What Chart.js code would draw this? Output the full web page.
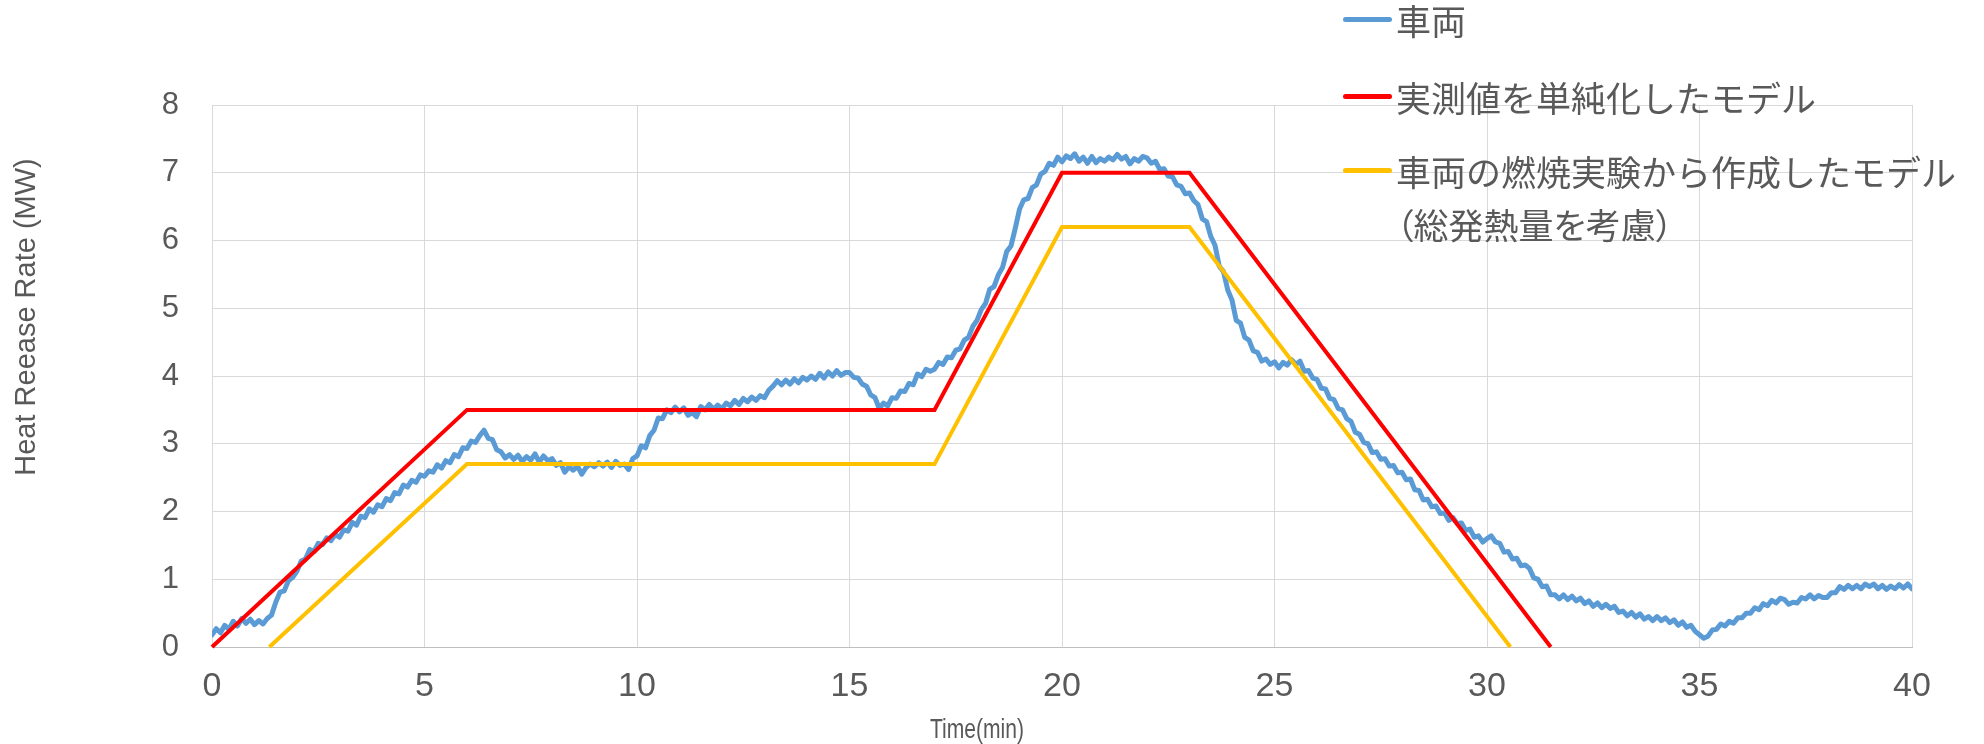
<!DOCTYPE html>
<html><head><meta charset="utf-8">
<script src="https://cdn.jsdelivr.net/npm/chart.js@4.4.1/dist/chart.umd.min.js"></script>
<style>
html,body{margin:0;padding:0;background:#fff;}
#wrap{position:relative;width:1984px;height:744px;overflow:hidden;background:#fff;}
canvas{position:absolute;left:0;top:0;}
.lg{position:absolute;font-family:"Noto Sans CJK JP","Noto Sans CJK SC",sans-serif;font-size:35px;color:#595959;white-space:nowrap;line-height:35px;height:35px;}
.sw{position:absolute;height:5px;border-radius:3px;}
</style></head>
<body><div id="wrap"><canvas id="c" width="1984" height="744"></canvas><div id="legend"></div></div>
<script>
// ---- data ----
const xTickLabels = [0,5,10,15,20,25,30,35,40];
const yTickLabels = [0,1,2,3,4,5,6,7,8];
const xTitle = "Time(min)";
const yTitle = "Heat Reease Rate (MW)";
const seriesNames = ["車両", "実測値を単純化したモデル", "車両の燃焼実験から作成したモデル"];
const seriesNote = "（総発熱量を考慮）";

// measured series 車両 : sampled every 0.1 min from 0 to 40
const vehicleStart = 0, vehicleStep = 0.1;
const vehicleValues = [
0.18,0.27,0.21,0.32,0.26,0.38,0.31,0.42,0.35,0.41,
0.33,0.39,0.34,0.42,0.47,0.66,0.81,0.83,0.98,1.03,
1.12,1.27,1.30,1.44,1.41,1.53,1.51,1.61,1.57,1.66,
1.62,1.73,1.71,1.84,1.80,1.93,1.91,2.04,1.99,2.10,
2.07,2.19,2.16,2.28,2.26,2.39,2.36,2.46,2.43,2.54,
2.52,2.60,2.58,2.69,2.64,2.75,2.72,2.84,2.81,2.94,
2.93,3.04,3.02,3.12,3.20,3.08,3.06,2.91,2.88,2.79,
2.84,2.77,2.83,2.74,2.81,2.76,2.85,2.73,2.82,2.75,
2.78,2.68,2.72,2.58,2.66,2.61,2.67,2.55,2.65,2.70,
2.66,2.72,2.67,2.73,2.65,2.74,2.68,2.70,2.62,2.78,
2.82,2.97,2.94,3.12,3.20,3.38,3.37,3.50,3.46,3.54,
3.47,3.53,3.42,3.46,3.40,3.55,3.50,3.58,3.51,3.57,
3.52,3.60,3.56,3.64,3.58,3.67,3.62,3.69,3.64,3.71,
3.68,3.79,3.85,3.93,3.87,3.94,3.88,3.96,3.90,3.98,
3.94,4.00,3.95,4.04,3.97,4.06,4.00,4.08,4.01,4.05,
4.05,3.98,3.97,3.88,3.85,3.72,3.68,3.52,3.60,3.56,
3.68,3.67,3.78,3.77,3.89,3.87,4.03,3.99,4.10,4.07,
4.10,4.20,4.17,4.28,4.27,4.38,4.40,4.53,4.57,4.73,
4.82,4.98,5.07,5.28,5.32,5.49,5.60,5.84,5.92,6.18,
6.46,6.60,6.62,6.78,6.82,6.98,7.02,7.14,7.11,7.23,
7.16,7.25,7.21,7.28,7.17,7.23,7.14,7.24,7.15,7.21,
7.17,7.23,7.19,7.27,7.20,7.24,7.13,7.21,7.17,7.24,
7.22,7.14,7.17,7.05,7.06,6.95,6.94,6.82,6.80,6.69,
6.70,6.59,6.53,6.32,6.28,6.06,5.93,5.62,5.54,5.27,
5.12,4.82,4.78,4.57,4.53,4.37,4.35,4.22,4.25,4.17,
4.21,4.12,4.20,4.16,4.24,4.17,4.22,4.07,4.08,3.97,
3.95,3.82,3.81,3.67,3.65,3.52,3.50,3.37,3.33,3.17,
3.14,3.02,3.00,2.87,2.88,2.77,2.78,2.67,2.68,2.57,
2.58,2.47,2.48,2.32,2.31,2.17,2.18,2.07,2.08,1.97,
1.98,1.87,1.91,1.82,1.83,1.72,1.74,1.62,1.64,1.55,
1.60,1.64,1.55,1.53,1.40,1.41,1.30,1.31,1.20,1.21,
1.16,1.02,1.00,0.89,0.90,0.77,0.77,0.71,0.77,0.70,
0.75,0.68,0.72,0.64,0.68,0.60,0.65,0.58,0.63,0.57,
0.60,0.51,0.53,0.46,0.51,0.44,0.49,0.41,0.45,0.39,
0.45,0.39,0.43,0.36,0.40,0.32,0.37,0.29,0.32,0.23,
0.18,0.13,0.16,0.25,0.26,0.34,0.31,0.38,0.35,0.43,
0.43,0.50,0.50,0.58,0.55,0.64,0.61,0.69,0.65,0.72,
0.70,0.63,0.66,0.65,0.73,0.71,0.77,0.71,0.76,0.73,
0.73,0.80,0.80,0.89,0.85,0.91,0.86,0.91,0.86,0.93,
0.89,0.93,0.86,0.91,0.85,0.90,0.86,0.92,0.87,0.93,
0.86
];

// simplified model (red)
const simpleTimes  = [0, 6, 17, 20, 23, 31.5];
const simpleValues = [0, 3.5, 3.5, 7, 7, 0];

// model from combustion test (yellow)
const testTimes  = [1.35, 6, 17, 20, 23, 30.55];
const testValues = [0, 2.7, 2.7, 6.2, 6.2, 0];

const seriesColors = ["#5B9BD5", "#FF0000", "#FFC000"];

// ---- build ----
const vehicleData = vehicleValues.map((v,i)=>({x: +(vehicleStart + i*vehicleStep).toFixed(2), y: v}));
const simpleData = simpleTimes.map((t,i)=>({x:t, y:simpleValues[i]}));
const testData = testTimes.map((t,i)=>({x:t, y:testValues[i]}));

const gridColor = "#D9D9D9";
const textColor = "#595959";

const titlePlugin = {
  id: 'axisTitles',
  afterDraw(chart){
    const ctx = chart.ctx;
    ctx.save();
    ctx.fillStyle = textColor;
    ctx.textAlign = 'center';
    ctx.textBaseline = 'middle';
    ctx.font = '29px "Liberation Sans", Arial, sans-serif';
    ctx.translate(27, 317);
    ctx.rotate(-Math.PI/2);
    ctx.fillText(yTitle, 0, 0);
    ctx.restore();
    ctx.save();
    ctx.fillStyle = textColor;
    ctx.textAlign = 'center';
    ctx.textBaseline = 'middle';
    ctx.font = '27px "Liberation Sans", Arial, sans-serif';
    ctx.translate(977, 731);
    ctx.scale(0.78, 1);
    ctx.fillText(xTitle, 0, 0);
    ctx.restore();
  }
};

new Chart(document.getElementById('c'), {
  type: 'scatter',
  data: {
    datasets: [
      {label: seriesNames[0], data: vehicleData, showLine: true, borderColor: seriesColors[0], backgroundColor: seriesColors[0],
       borderWidth: 5, pointRadius: 0, tension: 0, order: 3, borderJoinStyle: 'round', borderCapStyle: 'round'},
      {label: seriesNames[1], data: simpleData, showLine: true, borderColor: seriesColors[1], backgroundColor: seriesColors[1],
       borderWidth: 4, pointRadius: 0, tension: 0, order: 2, clip: false, borderJoinStyle: 'miter', borderCapStyle: 'butt'},
      {label: seriesNames[2], data: testData, showLine: true, borderColor: seriesColors[2], backgroundColor: seriesColors[2],
       borderWidth: 4, pointRadius: 0, tension: 0, order: 1, clip: false, borderJoinStyle: 'miter', borderCapStyle: 'butt'}
    ]
  },
  options: {
    responsive: false,
    animation: false,
    devicePixelRatio: 1,
    layout: {padding: {left: 0, right: 72, top: 105, bottom: 0}},
    plugins: {legend: {display: false}, tooltip: {enabled: false}},
    scales: {
      x: {
        type: 'linear', min: 0, max: 40,
        afterBuildTicks(s){ s.ticks = xTickLabels.map(v=>({value:v})); },
        afterFit(s){ s.height = 97; },
        grid: {color: gridColor, lineWidth: 1, drawTicks: false},
        border: {display: true, color: '#BFBFBF', width: 1},
        ticks: {color: textColor, padding: 19, maxRotation: 0, font: {family: '"Liberation Sans", Arial, sans-serif', size: 34}}
      },
      y: {
        type: 'linear', min: 0, max: 8,
        afterBuildTicks(s){ s.ticks = yTickLabels.map(v=>({value:v})); },
        afterFit(s){ s.width = 212; },
        grid: {color: gridColor, lineWidth: 1, drawTicks: false},
        border: {display: true, color: gridColor, width: 1},
        ticks: {color: textColor, padding: 33, font: {family: '"Liberation Sans", Arial, sans-serif', size: 31}}
      }
    }
  },
  plugins: [titlePlugin]
});

// ---- legend (HTML text) ----
const legendRows = [
  {text: seriesNames[0], color: seriesColors[0], cy: 19, swatch: true},
  {text: seriesNames[1], color: seriesColors[1], cy: 96, swatch: true},
  {text: seriesNames[2], color: seriesColors[2], cy: 170, swatch: true},
  {text: seriesNote, color: null, cy: 223, swatch: false, palt: true}
];
const lg = document.getElementById('legend');
legendRows.forEach(r=>{
  if (r.swatch) {
    const s = document.createElement('div');
    s.className = 'sw';
    s.style.left = '1343px'; s.style.width = '49px';
    s.style.top = (r.cy - 2.5) + 'px';
    s.style.background = r.color;
    lg.appendChild(s);
  }
  const t = document.createElement('div');
  t.className = 'lg';
  t.textContent = r.text;
  t.style.left = '1396px';
  t.style.top = (r.cy - 17.5) + 'px';
  if (r.palt) t.style.fontFeatureSettings = '"palt"';
  lg.appendChild(t);
});
</script>
</body></html>
